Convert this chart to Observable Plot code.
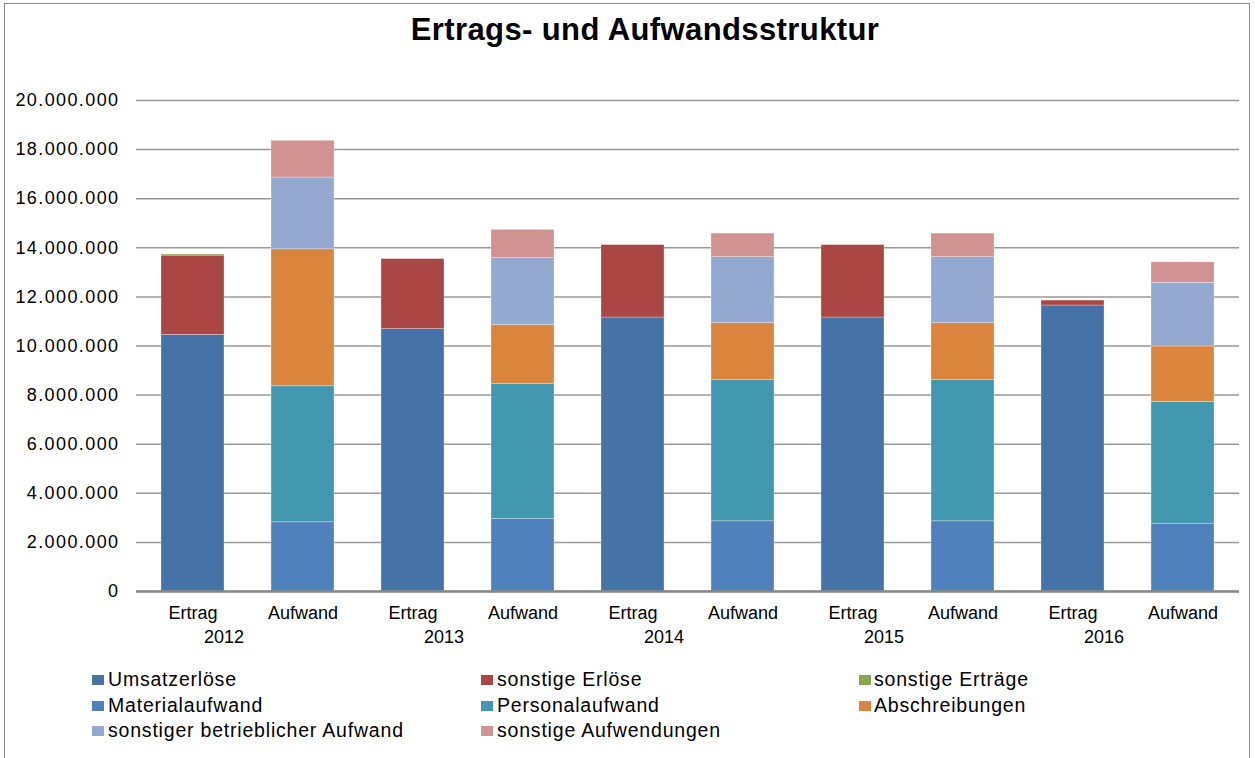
<!DOCTYPE html>
<html>
<head>
<meta charset="utf-8">
<script src="https://cdn.jsdelivr.net/npm/d3@7"></script>
<script src="https://cdn.jsdelivr.net/npm/@observablehq/plot@0.6"></script>
<style>
  html, body { margin: 0; padding: 0; background: #fff; }
  body { width: 1255px; height: 758px; position: relative; overflow: hidden; font-family: "Liberation Sans", Arial, sans-serif; }
  #frame { position: absolute; left: 4px; top: 3px; width: 1246px; height: 800px; border: 1.5px solid #8a8a8a; box-sizing: border-box; }
  #title { position: absolute; left: 0; top: 15px; width: 1290px; text-align: center; font-weight: bold; font-size: 31px; line-height: 30px; letter-spacing: 0.4px; color: #000; }
  #chart { position: absolute; left: 0; top: 70px; }
  .leg { position: absolute; font-size: 19.5px; line-height: 20px; letter-spacing: 0.8px; color: #000; white-space: nowrap; }
  .sw { position: absolute; width: 12px; height: 10px; }
</style>
</head>
<body>
<div id="frame"></div>
<div id="title">Ertrags- und Aufwandsstruktur</div>
<div id="chart"></div>
<div id="legend"></div>
<script>
// ---- data ----
const years = ["2012", "2013", "2014", "2015", "2016"];
const types = ["Ertrag", "Aufwand"];

// Ertrag series
const umsatzerloese     = [10450000, 10690000, 11160000, 11160000, 11650000];
const sonstigeErloese   = [ 3230000,  2850000,  2950000,  2950000,   200000];
const sonstigeErtraege  = [   50000,        0,        0,        0,        0];
// Aufwand series
const materialaufwand   = [2820000, 2950000, 2860000, 2860000, 2760000];
const personalaufwand   = [5540000, 5510000, 5750000, 5750000, 4960000];
const abschreibungen    = [5580000, 2390000, 2320000, 2320000, 2260000];
const sonstBetrAufwand  = [2920000, 2730000, 2690000, 2690000, 2590000];
const sonstAufwendungen = [1500000, 1150000,  960000,  960000,  840000];

const seriesNames = [
  "Umsatzerlöse", "sonstige Erlöse", "sonstige Erträge",
  "Materialaufwand", "Personalaufwand", "Abschreibungen",
  "sonstiger betrieblicher Aufwand", "sonstige Aufwendungen"
];
const seriesColors = [
  "#4573A7", "#AA4643", "#89A54E",
  "#4F81BD", "#4198AF", "#DB843D",
  "#93A9CF", "#D19392"
];
const yTicks = [0, 2000000, 4000000, 6000000, 8000000, 10000000, 12000000, 14000000, 16000000, 18000000, 20000000];

// ---- build table ----
const ertragSeries = [[seriesNames[0], umsatzerloese], [seriesNames[1], sonstigeErloese], [seriesNames[2], sonstigeErtraege]];
const aufwandSeries = [[seriesNames[3], materialaufwand], [seriesNames[4], personalaufwand], [seriesNames[5], abschreibungen], [seriesNames[6], sonstBetrAufwand], [seriesNames[7], sonstAufwendungen]];
const keys = [];
const rows = [];
years.forEach((yr, i) => {
  types.forEach(t => {
    const key = yr + " " + t;
    keys.push(key);
    const src = t === "Ertrag" ? ertragSeries : aufwandSeries;
    src.forEach(([name, vals]) => {
      if (vals[i] > 0) rows.push({key, series: name, value: vals[i]});
    });
  });
});
const ertragKeys = keys.filter(k => k.endsWith("Ertrag"));

const fmtDE = d3.formatLocale({decimal: ",", thousands: ".", grouping: [3], currency: ["", "€"]}).format(",.0f");

const chart = Plot.plot({
  width: 1255,
  height: 591,
  marginTop: 30,
  marginBottom: 70,
  marginLeft: 136,
  marginRight: 16,
  style: {fontFamily: "'Liberation Sans', Arial, sans-serif", fontSize: "18px", color: "#000", background: "transparent"},
  x: {domain: keys, paddingInner: 0.43, paddingOuter: 0.215},
  y: {domain: [0, 20000000]},
  color: {domain: seriesNames, range: seriesColors},
  marks: [
    Plot.gridY(yTicks, {stroke: "#999", strokeOpacity: 1, strokeWidth: 1.5}),
    Plot.barY(rows, {x: "key", y: "value", fill: "series", stroke: "#fff", strokeOpacity: 0.35, strokeWidth: 0.8}),
    Plot.ruleY([0], {stroke: "#878787", strokeWidth: 2.6}),
    Plot.axisY(yTicks, {tickSize: 0, tickPadding: 17, tickFormat: fmtDE, label: null, fontSize: 18}),
    Plot.axisX(keys, {tickSize: 0, tickPadding: 15, tickFormat: d => d.split(" ")[1], label: null, fontSize: 18}),
    Plot.axisX(ertragKeys, {tickSize: 0, tickPadding: 39, dx: 31, tickFormat: d => d.split(" ")[0], label: null, fontSize: 18})
  ]
});
d3.select(chart).selectAll('g[aria-label="y-axis tick label"] text').style("letter-spacing", "1.4px");
document.getElementById("chart").appendChild(chart);

// ---- legend ----
const legend = document.getElementById("legend");
const colX = [[92, 108], [481, 497], [859, 874]];
const rowBase = [686, 711.5, 737];
seriesNames.forEach((name, i) => {
  const c = i % 3, r = Math.floor(i / 3);
  const sw = document.createElement("div");
  sw.className = "sw";
  sw.style.left = colX[c][0] + "px";
  sw.style.top = (rowBase[r] - 11) + "px";
  sw.style.background = seriesColors[i];
  legend.appendChild(sw);
  const tx = document.createElement("div");
  tx.className = "leg";
  tx.style.left = colX[c][1] + "px";
  tx.style.top = (rowBase[r] - 16.8) + "px";
  tx.textContent = name;
  legend.appendChild(tx);
});
</script>
</body>
</html>
